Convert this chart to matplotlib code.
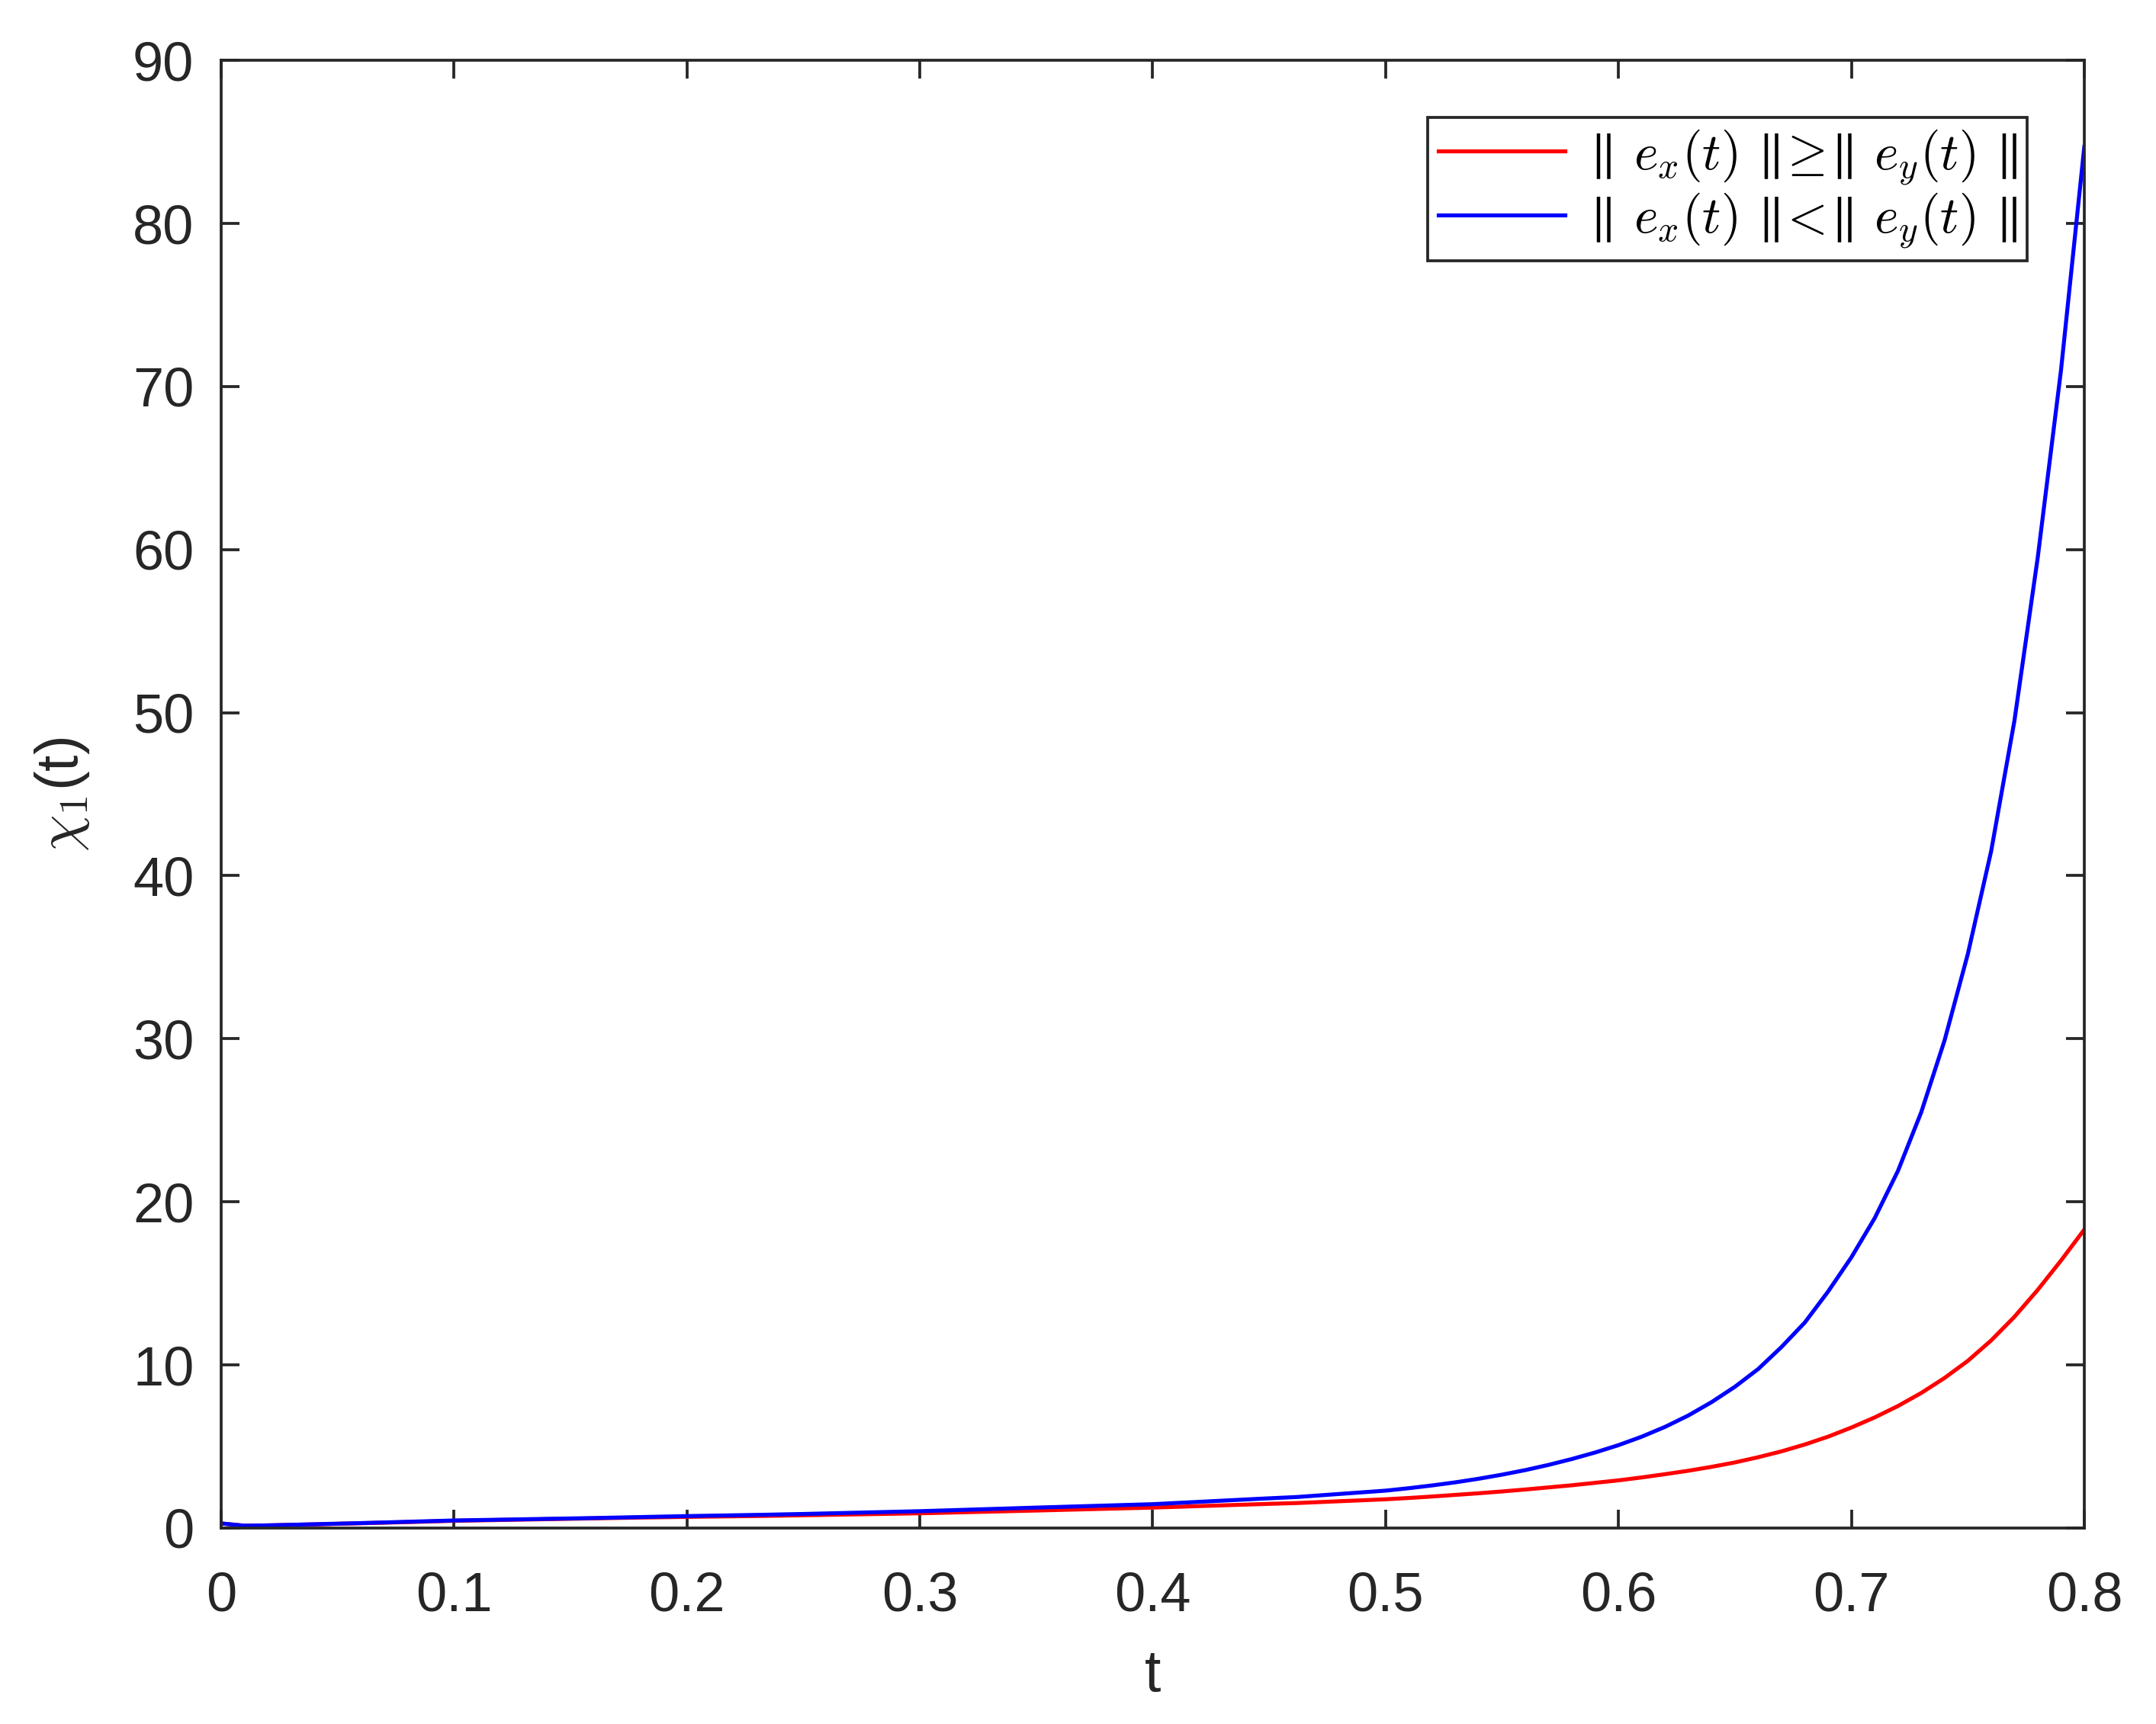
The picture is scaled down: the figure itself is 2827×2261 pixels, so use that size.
"""
chi_1(t) for the two error-norm cases, MATLAB-style line plot.
Saves out.png
"""

import matplotlib.pyplot as plt
import numpy as np

plt.rcParams['font.family'] = ['Liberation Sans', 'DejaVu Sans']
plt.rcParams['mathtext.fontset'] = 'cm'

# values (same t grid for both curves)
t = [0.0, 0.01, 0.02, 0.04, 0.06, 0.08, 0.10, 0.12, 0.14, 0.16, 0.18, 0.20,
     0.233, 0.25, 0.30, 0.35, 0.40, 0.45, 0.462, 0.50, 0.51, 0.52, 0.53, 0.54,
     0.55, 0.56, 0.57, 0.58, 0.59, 0.60, 0.61, 0.62, 0.63, 0.64, 0.65, 0.66,
     0.67, 0.68, 0.69, 0.70, 0.71, 0.72, 0.73, 0.74, 0.75, 0.76, 0.77, 0.78,
     0.79, 0.80]

# || e_x(t) || >= || e_y(t) ||
chi_ge = [0.28, 0.14, 0.16, 0.22, 0.29, 0.36, 0.44, 0.49, 0.54, 0.59, 0.64, 0.68,
          0.74, 0.78, 0.90, 1.07, 1.25, 1.48, 1.53, 1.76, 1.84, 1.93, 2.03, 2.13,
          2.24, 2.36, 2.49, 2.62, 2.77, 2.92, 3.10, 3.30, 3.51, 3.75, 4.02, 4.34,
          4.70, 5.12, 5.60, 6.16, 6.78, 7.48, 8.28, 9.20, 10.25, 11.5, 12.95, 14.6,
          16.4, 18.3]

# || e_x(t) || < || e_y(t) ||
chi_lt = [0.28, 0.14, 0.16, 0.23, 0.30, 0.38, 0.46, 0.51, 0.56, 0.61, 0.67, 0.73,
          0.81, 0.86, 1.03, 1.25, 1.46, 1.82, 1.90, 2.29, 2.44, 2.61, 2.80, 3.02,
          3.27, 3.55, 3.87, 4.23, 4.63, 5.08, 5.60, 6.20, 6.90, 7.72, 8.66, 9.75,
          11.1, 12.6, 14.5, 16.6, 19.0, 21.9, 25.5, 29.9, 35.2, 41.5, 49.5, 59.5,
          71.0, 84.7]

labels = [r'$\parallel\,e_x(t)\,\parallel\!\!\geq\!\!\parallel\,e_y(t)\,\parallel$',
          r'$\parallel\,e_x(t)\,\parallel\!\!<\!\!\parallel\,e_y(t)\,\parallel$']
xticks = [0, 0.1, 0.2, 0.3, 0.4, 0.5, 0.6, 0.7, 0.8]
yticks = [0, 10, 20, 30, 40, 50, 60, 70, 80, 90]

ink = '#262626'

fig = plt.figure(figsize=(2828 / 300, 2261 / 300), dpi=300)
ax = fig.add_axes([0.1025, 0.1137, 0.8639, 0.8513])

ax.plot(t, chi_ge, color='#ff0000', lw=1.25, label=labels[0])
ax.plot(t, chi_lt, color='#0000ff', lw=1.25, label=labels[1])

ax.set_xlim(0, 0.8); ax.set_ylim(0, 90)
ax.set_xticks(xticks); ax.set_xticklabels([f'{v:g}' for v in xticks])
ax.set_yticks(yticks)
ax.tick_params(direction='in', length=5.8, width=0.9, colors=ink,
               labelsize=17.3, top=True, right=True)
ax.tick_params(axis='x', pad=13.5)
ax.tick_params(axis='y', pad=8.5)
for s in ax.spines.values():
    s.set_color(ink); s.set_linewidth(0.9)

ax.set_xlabel('t', fontsize=18.5, color=ink, labelpad=8)
ax.set_ylabel(r'$\chi_{\mathsf{1}}$(t)', fontsize=18.5, color=ink, labelpad=13)

leg = ax.legend(loc='upper right', fontsize=16.3, handlelength=2.45,
                borderaxespad=1.1, labelspacing=0.08, handletextpad=0.3,
                borderpad=0.2, fancybox=False, framealpha=1)
leg.get_frame().set_edgecolor(ink); leg.get_frame().set_linewidth(0.9)

fig.savefig('out.png', dpi=300, facecolor='white')
